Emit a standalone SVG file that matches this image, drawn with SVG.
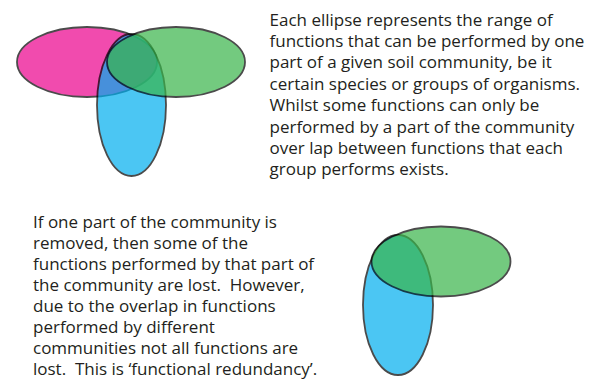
<svg xmlns="http://www.w3.org/2000/svg" width="592" height="379" viewBox="0 0 592 379">
<style>
.e{opacity:0.7;stroke:#000;stroke-width:1.8}
.pink{fill:#EC008C}
.blue{fill:#00AEEF}
.green{fill:#39B54A}
.t{font-family:"Open Sans","Noto Sans","Liberation Sans",sans-serif;font-size:17px;fill:#231F20}
</style>
<rect width="592" height="379" fill="#fff"/>
<g id="venn-full">
<ellipse class="e pink" cx="87" cy="62" rx="70" ry="35"/>
<ellipse class="e blue" cx="131.5" cy="105" rx="34.5" ry="71"/>
<ellipse class="e green" cx="176" cy="62" rx="69" ry="35"/>
</g>
<g id="venn-reduced">
<ellipse class="e blue" cx="398" cy="305" rx="35" ry="70"/>
<ellipse class="e green" cx="441" cy="261.5" rx="69.5" ry="35"/>
</g>
<g id="text-top" class="t">
<text x="269.5" y="25.5">Each ellipse represents the range of</text>
<text x="269.5" y="46.9">functions that can be performed by one</text>
<text x="269.5" y="68.3">part of a given soil community, be it</text>
<text x="269.5" y="89.7">certain species or groups of organisms.</text>
<text x="269.5" y="111.1">Whilst some functions can only be</text>
<text x="269.5" y="132.5">performed by a part of the community</text>
<text x="269.5" y="153.9">over lap between functions that each</text>
<text x="269.5" y="175.3">group performs exists.</text>
</g>
<g id="text-bottom" class="t">
<text x="33" y="228">If one part of the community is</text>
<text x="33" y="249">removed, then some of the</text>
<text x="33" y="270">functions performed by that part of</text>
<text x="33" y="291">the community are lost.&#160; However,</text>
<text x="33" y="312">due to the overlap in functions</text>
<text x="33" y="333">performed by different</text>
<text x="33" y="354">communities not all functions are</text>
<text x="33" y="375">lost.&#160; This is ‘functional redundancy’.</text>
</g>
</svg>
